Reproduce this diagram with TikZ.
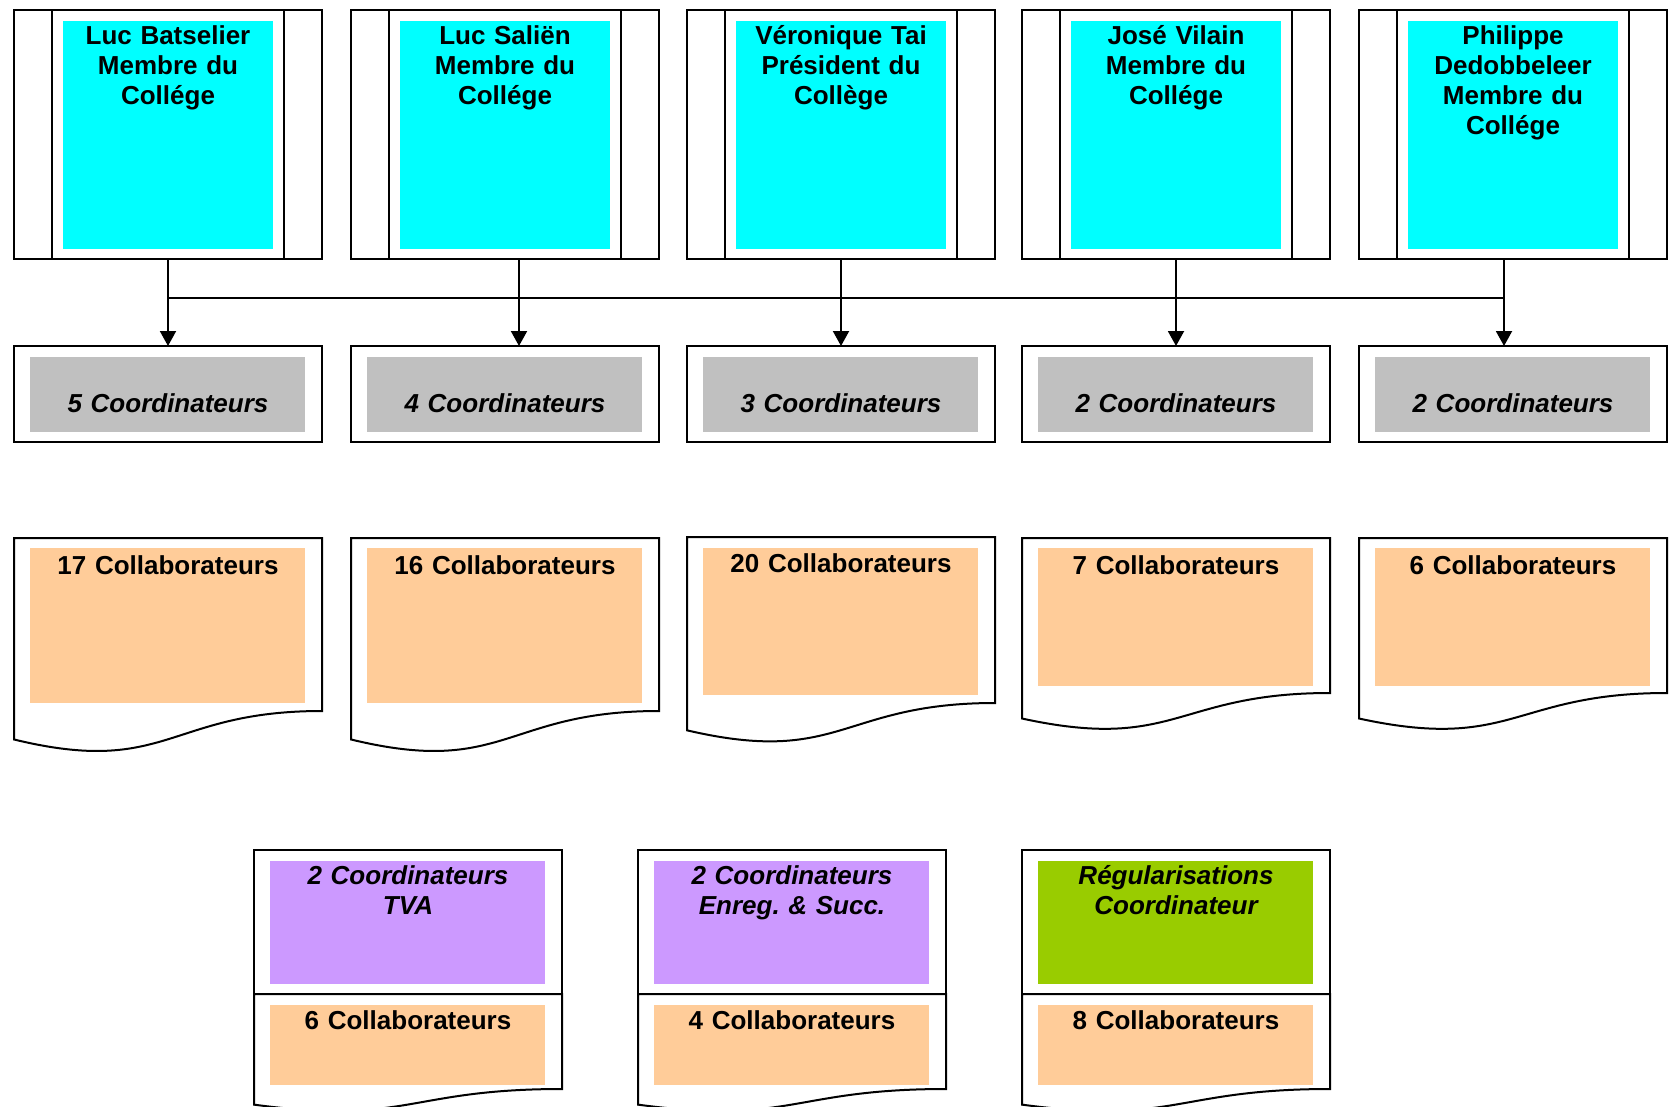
\documentclass[tikz,border=0pt]{standalone}
\usepackage{fontspec}
\setmainfont{Liberation Sans}
\usetikzlibrary{arrows.meta}
\frenchspacing

\definecolor{headcyan}{HTML}{00FFFF}
\definecolor{coordgrey}{HTML}{C0C0C0}
\definecolor{staffpeach}{HTML}{FFCC99}
\definecolor{taxlilac}{HTML}{CC99FF}
\definecolor{reggreen}{HTML}{99CC00}

\tikzset{
  boxframe/.style={draw=black, line width=2pt, fill=white, inner sep=0pt, outer sep=0pt, anchor=north west},
  panel/.style={inner sep=0pt, outer sep=0pt, anchor=north west, draw=none},
  txt/.style={inner sep=0pt, anchor=base, text width=290pt, align=center,
    font=\fontsize{26}{30}\selectfont\bfseries},
  itxt/.style={txt, font=\fontsize{26}{30}\selectfont\bfseries\itshape},
  link/.style={line width=2pt},
  arrowlink/.style={link, -{Triangle[length=15pt,width=16pt]}},
}

% document outline with a wavy bottom edge: left, top, width, height of the right side
\newcommand\docoutline[4]{%
  \draw[link, fill=white] (#1,#2) -- ({#1+#3},#2) -- ({#1+#3},{#2+#4})
    .. controls ({#1+#3/2},{#2+#4}) and ({#1+#3/2},{#2+1.38103*#4}) ..
    (#1,{#2+1.16456*#4}) -- cycle;}

\begin{document}
\begin{tikzpicture}[x=1pt,y=-1pt]
\path[use as bounding box] (0,0) rectangle (1672,1107);
\clip (0,0) rectangle (1672,1107);

% college members
\foreach \k/\L in {1/14,2/351,3/687,4/1022,5/1359}{
  \node[boxframe, minimum width=308pt, minimum height=249pt] (m\k) at (\L,10) {};
  \draw[link] ([xshift=37.5pt]m\k.north west) -- ([xshift=37.5pt]m\k.south west);
  \draw[link] ([xshift=-38pt]m\k.north east) -- ([xshift=-38pt]m\k.south east);
  \node[panel, fill=headcyan, minimum width=210pt, minimum height=228pt] (h\k) at (\L+49,21) {};
}
\node[txt] (t1) at (168,45) {Luc Batselier\\Membre du\\Collége};
\node[txt] (t2) at (505,45) {Luc Saliën\\Membre du\\Collége};
\node[txt] (t3) at (841,45) {Véronique Tai\\Président du\\Collège};
\node[txt] (t4) at (1176,45) {José Vilain\\Membre du\\Collége};
\node[txt] (t5) at (1513,45) {Philippe\\Dedobbeleer\\Membre du\\Collége};

% coordinators
\foreach \k/\L/\n in {1/14/5,2/351/4,3/687/3,4/1022/2,5/1359/2}{
  \node[boxframe, minimum width=308pt, minimum height=96pt] (c\k) at (\L,346) {};
  \node[panel, fill=coordgrey, minimum width=275pt, minimum height=75pt] (g\k) at (\L+16,357) {};
  \node[itxt] (ct\k) at (\L+154,412) {\n{} Coordinateurs};
}

% links from members to coordinators
\coordinate (busW) at (168,298);
\coordinate (busE) at (1504,298);
\draw[link] (busW) -- (busE);
\draw[arrowlink] (m1.south) -- (c1.north);
\draw[arrowlink] ([xshift=14pt]m2.south) -- ([xshift=14pt]c2.north);
\draw[arrowlink] (m3.south) -- (c3.north);
\draw[arrowlink] (m4.south) -- (c4.north);
\draw[arrowlink] ([xshift=-9pt]m5.south) -- ([xshift=-9pt]c5.north);

% staff per member
\foreach \k/\L/\T/\h/\p/\n/\b in {1/14/538/173/155/17/574, 2/351/538/173/155/16/574,
    3/687/537/166/147/20/572, 4/1022/538/155/138/7/574, 5/1359/538/155/138/6/574}{
  \docoutline{\L}{\T}{308}{\h}
  \node[panel, fill=staffpeach, minimum width=275pt, minimum height=\p pt] (s\k) at (\L+16,548) {};
  \node[txt] (st\k) at (\L+154,\b) {\n{} Collaborateurs};
}

% specialised units
\foreach \k/\L/\c in {1/254/taxlilac, 2/638/taxlilac, 3/1022/reggreen}{
  \node[boxframe, minimum width=308pt, minimum height=144pt] (b\k) at (\L,850) {};
  \docoutline{\L}{994}{308}{95}
  \node[panel, fill=\c, minimum width=275pt, minimum height=123pt] (u\k) at (\L+16,861) {};
  \node[panel, fill=staffpeach, minimum width=275pt, minimum height=80pt] (w\k) at (\L+16,1005) {};
}
\node[itxt] (ut1) at (408,884) {2 Coordinateurs\\TVA};
\node[itxt] (ut2) at (792,884) {2 Coordinateurs\\Enreg. \& Succ.};
\node[itxt] (ut3) at (1176,884) {Régularisations\\Coordinateur};
\node[txt] (wt1) at (408,1029) {6 Collaborateurs};
\node[txt] (wt2) at (792,1029) {4 Collaborateurs};
\node[txt] (wt3) at (1176,1029) {8 Collaborateurs};
\end{tikzpicture}
\end{document}
